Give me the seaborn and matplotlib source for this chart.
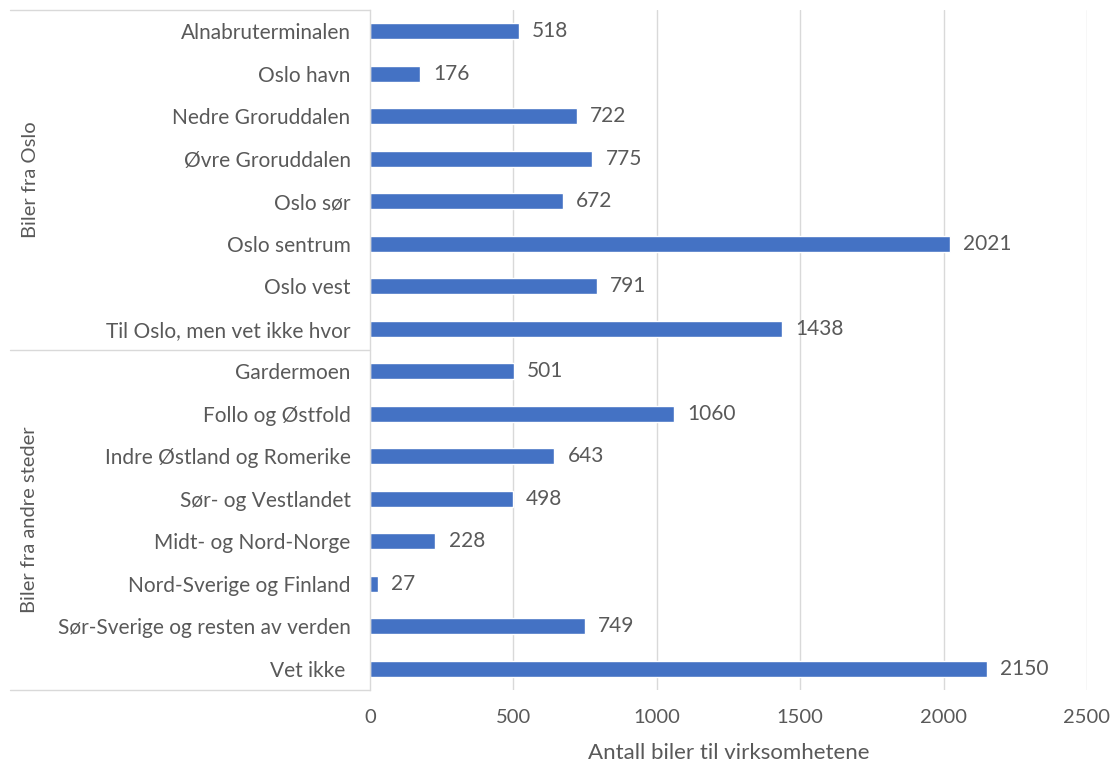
import matplotlib
matplotlib.use("Agg")
import matplotlib.pyplot as plt
import seaborn as sns
import pandas as pd

# Destinations, grouped by origin of the vehicles
oslo_steder = [
    "Alnabruterminalen", "Oslo havn", "Nedre Groruddalen", "Øvre Groruddalen",
    "Oslo sør", "Oslo sentrum", "Oslo vest", "Til Oslo, men vet ikke hvor",
]
oslo_biler = [518, 176, 722, 775, 672, 2021, 791, 1438]

andre_steder = [
    "Gardermoen", "Follo og Østfold", "Indre Østland og Romerike",
    "Sør- og Vestlandet", "Midt- og Nord-Norge", "Nord-Sverige og Finland",
    "Sør-Sverige og resten av verden", "Vet ikke ",
]
andre_biler = [501, 1060, 643, 498, 228, 27, 749, 2150]

gruppe_navn = ["Biler fra Oslo", "Biler fra andre steder"]
x_ticks = [0, 500, 1000, 1500, 2000, 2500]
x_tittel = "Antall biler til virksomhetene"

df = pd.DataFrame({
    "sted": oslo_steder + andre_steder,
    "biler": oslo_biler + andre_biler,
})

sns.set_style("white")
plt.rcParams["font.family"] = ["Lato", "DejaVu Sans"]

TEXT = "#595959"
LINE = "#D9D9D9"
BAR = "#4472C4"

fig = plt.figure(figsize=(11.16, 7.65), dpi=100)
ax = fig.add_axes([370 / 1116, 1 - 690 / 765, (1087 - 370) / 1116, 680 / 765])

sns.barplot(data=df, y="sted", x="biler", orient="h", color=BAR,
            width=0.38, saturation=1, ax=ax)

n = len(df)
ax.set_ylim(n - 0.5, -0.5)
ax.set_xlim(0, 2500)
ax.set_xticks(x_ticks)
ax.set_xticklabels([str(t) for t in x_ticks])

ax.bar_label(ax.containers[0], labels=[str(v) for v in df["biler"]],
             padding=9.5, fontsize=15, color=TEXT)

# Vertical gridlines
for t in x_ticks[1:]:
    ax.axvline(t, color=LINE, lw=1, zorder=0)

for s in ["top", "right", "bottom"]:
    ax.spines[s].set_visible(False)
ax.spines["left"].set_color(LINE)
ax.spines["left"].set_linewidth(1)

ax.tick_params(axis="both", length=0, labelcolor=TEXT)
ax.tick_params(axis="x", pad=14, labelsize=14.5)
ax.tick_params(axis="y", pad=14, labelsize=15)
ax.set_ylabel("")
ax.set_xlabel(x_tittel, fontsize=16, color=TEXT, labelpad=12)

# Group separators and group labels at the left
trans = ax.get_yaxis_transform()
x_left = (10 - 370) / (1087 - 370)
n_oslo = len(oslo_steder)
for yb in [-0.5, n_oslo - 0.5, n - 0.5]:
    ax.plot([x_left, 0], [yb, yb], transform=trans, color=LINE, lw=1,
            clip_on=False)

x_grp = (30 - 370) / (1087 - 370)
centers = [(-0.5 + n_oslo - 0.5) / 2, (n_oslo - 0.5 + n - 0.5) / 2]
for name, yc in zip(gruppe_navn, centers):
    ax.text(x_grp, yc, name, transform=trans, rotation=90, ha="center",
            va="center", fontsize=14.5, color=TEXT)

fig.savefig("out.png", dpi=100)
